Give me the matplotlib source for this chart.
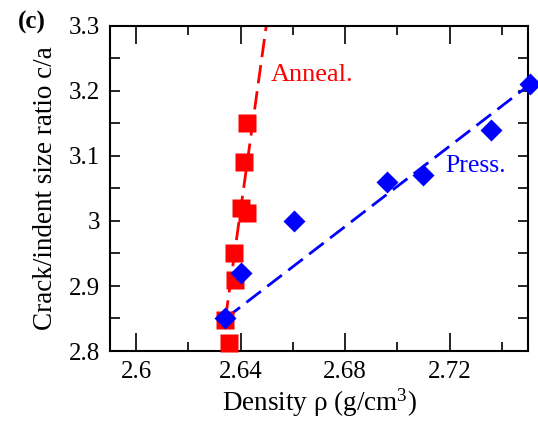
import matplotlib
matplotlib.use("Agg")
import matplotlib.pyplot as plt
from matplotlib.ticker import MultipleLocator, FixedFormatter, FixedLocator

plt.rcParams['font.family'] = ['Liberation Serif', 'DejaVu Serif']
plt.rcParams['mathtext.fontset'] = 'custom'
plt.rcParams['mathtext.rm'] = 'Liberation Serif'
plt.rcParams['mathtext.it'] = 'Liberation Serif:italic'

# Annealed samples (red squares)
anneal_density = [2.6426, 2.6413, 2.6400, 2.6426, 2.6374, 2.6380, 2.6342, 2.6355]
anneal_ratio = [3.150, 3.091, 3.020, 3.012, 2.950, 2.909, 2.848, 2.812]
anneal_fit_density = [2.6342, 2.6505]
anneal_fit_ratio = [2.85, 3.32]

# Pressed samples (blue diamonds)
press_density = [2.6342, 2.6403, 2.6603, 2.6962, 2.7099, 2.7359, 2.7507]
press_ratio = [2.850, 2.920, 3.000, 3.060, 3.071, 3.140, 3.210]
press_fit_density = [2.6342, 2.7507]
press_fit_ratio = [2.85, 3.21]

xticks = [2.60, 2.64, 2.68, 2.72]
xticklabels = ['2.6', '2.64', '2.68', '2.72']
yticks = [2.8, 2.9, 3.0, 3.1, 3.2, 3.3]
yticklabels = ['2.8', '2.9', '3', '3.1', '3.2', '3.3']

fig = plt.figure(figsize=(5.38, 4.23), dpi=100)
ax = fig.add_axes([110/538, 1 - 351/423, (528 - 110)/538, (351 - 26)/423])

red = '#ff0000'
blue = '#0000ff'

ax.plot(anneal_fit_density, anneal_fit_ratio, color=red, lw=2.0,
        dashes=(6.6, 2.9), zorder=2)
ax.plot(press_fit_density, press_fit_ratio, color=blue, lw=2.0,
        dashes=(6.6, 2.9), zorder=2)
ax.plot(anneal_density, anneal_ratio, 's', color=red, ms=12.5, mec='none',
        zorder=3, clip_on=False)
ax.plot(press_density, press_ratio, 'D', color=blue, ms=11, mec='none',
        zorder=4, clip_on=False)

ax.set_xlim(2.59, 2.75)
ax.set_ylim(2.8, 3.3)

ax.xaxis.set_major_locator(FixedLocator(xticks))
ax.xaxis.set_major_formatter(FixedFormatter(xticklabels))
ax.xaxis.set_minor_locator(MultipleLocator(0.02))
ax.yaxis.set_major_locator(FixedLocator(yticks))
ax.yaxis.set_major_formatter(FixedFormatter(yticklabels))
ax.yaxis.set_minor_locator(MultipleLocator(0.05))

ax.tick_params(axis='both', which='both', direction='in', top=True, right=True,
               width=1.2, labelsize=18, pad=7)
ax.tick_params(axis='x', which='major', length=13)
ax.tick_params(axis='x', which='minor', length=6.5)
ax.tick_params(axis='y', which='major', length=7)
ax.tick_params(axis='y', which='minor', length=7)
for s in ax.spines.values():
    s.set_linewidth(1.5)

ax.set_xlabel('Density ρ (g/cm$^{3}$)', fontsize=19.5, labelpad=3)
ax.set_ylabel('Crack/indent size ratio c/a', fontsize=19.5, labelpad=8)

ax.text(2.6515, 3.2246, 'Anneal.', color=red, fontsize=19, va='center', ha='left')
ax.text(2.7185, 3.0846, 'Press.', color=blue, fontsize=18.5, va='center', ha='left')

fig.text(18/538, 1 - 22/423, '(c)', fontsize=18, fontweight='bold',
         va='center', ha='left')

fig.savefig('out.png', dpi=100)
